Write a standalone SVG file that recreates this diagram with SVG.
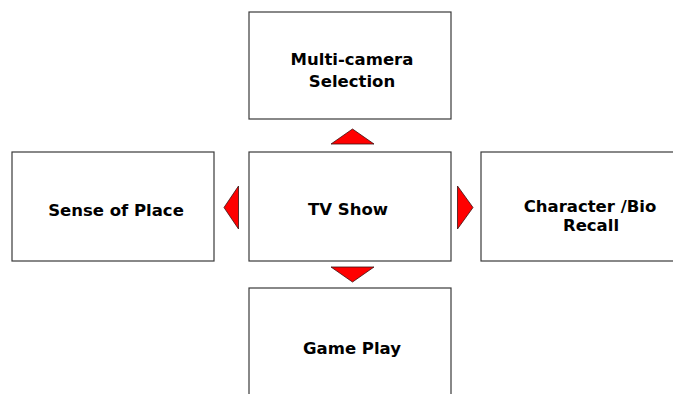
<svg xmlns="http://www.w3.org/2000/svg" width="673" height="394" viewBox="0 0 673 394">
  <style>
    .box { fill: #ffffff; stroke: #3a3a3a; stroke-width: 1.2; }
    .lbl { font-family: "DejaVu Sans", Verdana, sans-serif; font-weight: bold; font-size: 16.5px; fill: #000000; text-anchor: middle; }
    .arrow { fill: #ff0000; stroke: #3a1010; stroke-width: 0.8; stroke-linejoin: miter; }
  </style>
  <rect width="673" height="394" fill="#ffffff"/>

  <g id="multi-camera">
    <rect class="box" x="249" y="12" width="202" height="107"/>
    <text class="lbl" x="352" y="65">Multi-camera</text>
    <text class="lbl" x="352" y="87">Selection</text>
  </g>

  <g id="sense-of-place">
    <rect class="box" x="12" y="152" width="202" height="109"/>
    <text class="lbl" x="116" y="216">Sense of Place</text>
  </g>

  <g id="tv-show">
    <rect class="box" x="249" y="152" width="202" height="109"/>
    <text class="lbl" x="348" y="215">TV Show</text>
  </g>

  <g id="character-bio">
    <rect class="box" x="481" y="152" width="218" height="109"/>
    <text class="lbl" x="590" y="212">Character /Bio</text>
    <text class="lbl" x="591" y="231">Recall</text>
  </g>

  <g id="game-play">
    <rect class="box" x="249" y="288" width="202" height="110"/>
    <text class="lbl" x="352" y="354">Game Play</text>
  </g>

  <g id="connectors">
    <polygon class="arrow" points="331,144 374,144 352.5,129"/>
    <polygon class="arrow" points="238.5,186 238.5,229 224,207.5"/>
    <polygon class="arrow" points="457.5,186 457.5,229 473,207.5"/>
    <polygon class="arrow" points="331,267 374,267 352.5,282"/>
  </g>
</svg>
